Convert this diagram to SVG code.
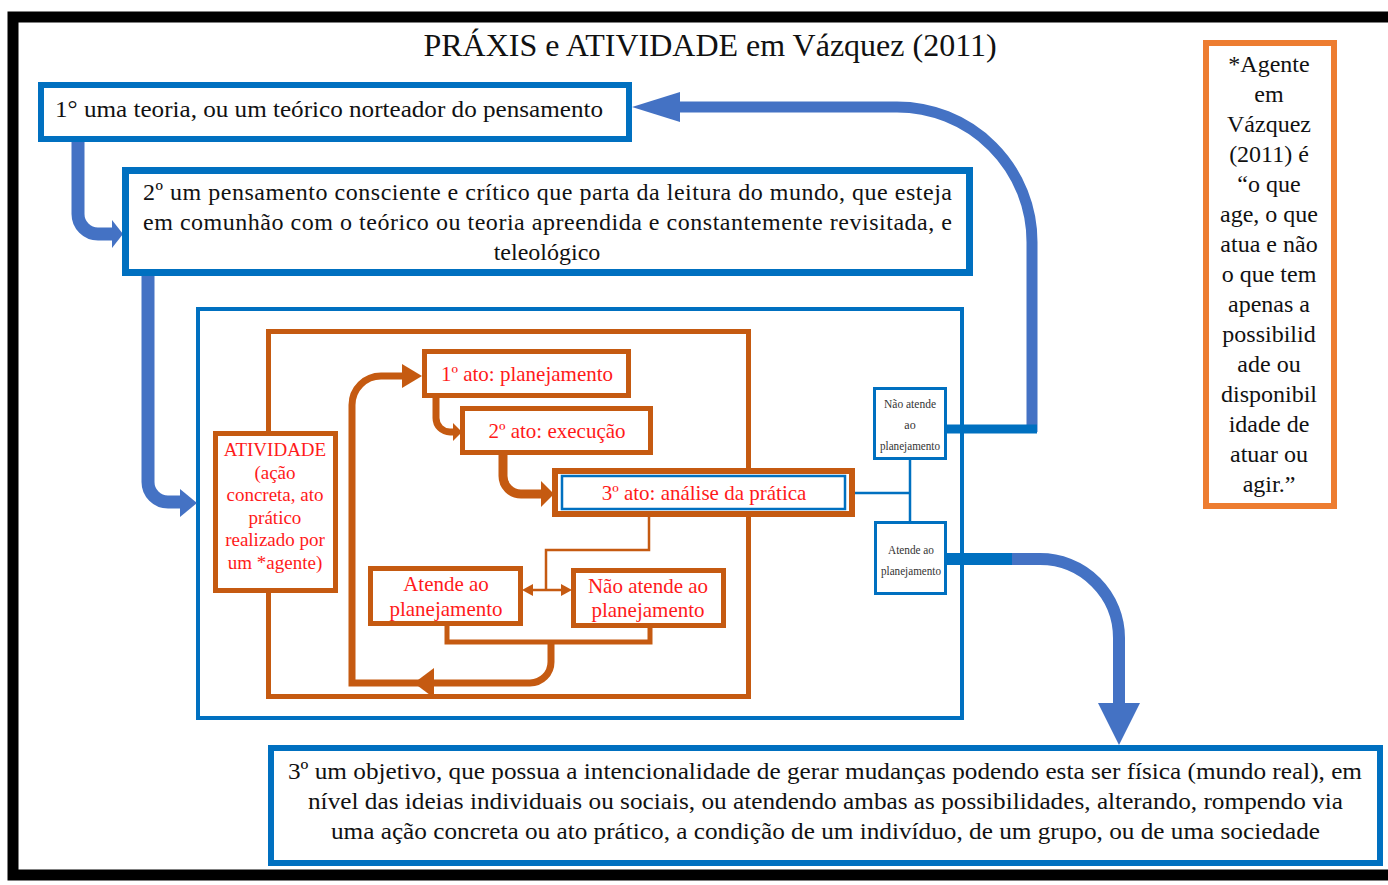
<svg xmlns="http://www.w3.org/2000/svg" width="1388" height="885" viewBox="0 0 1388 885">
<defs>
<style>
.t{font-family:"Liberation Serif","Times New Roman",serif;fill:#111}
.r{font-family:"Liberation Serif","Times New Roman",serif;fill:#FF1A1A}
.s{font-family:"Liberation Serif","Times New Roman",serif;fill:#333}
.bb{fill:#fff;stroke:#0070C0}
.ob{fill:#fff;stroke:#C55A11}
.ol{fill:none;stroke:#C55A11}
.al{fill:none;stroke:#4472C4}
.dl{fill:none;stroke:#0070C0}
.ah{fill:#4472C4}
.oh{fill:#C55A11}
</style>
</defs>
<rect x="0" y="0" width="1388" height="885" fill="#fff"/>
<rect id="frame" x="13" y="17" width="1400" height="858" fill="none" stroke="#000" stroke-width="11"/>
<text class="t" x="710" y="56" font-size="32" text-anchor="middle">PRÁXIS e ATIVIDADE em Vázquez (2011)</text>

<g id="blue-frame"><rect x="198" y="309" width="764" height="409" fill="#fff" stroke="#0070C0" stroke-width="4"/></g>
<g id="orange-frame"><rect x="268.5" y="331.5" width="480" height="365" fill="none" stroke="#C55A11" stroke-width="5"/></g>

<g id="connectors">
<path class="al" stroke-width="13" d="M78 142 V214 A20 20 0 0 0 98 234 H113"/>
<polygon class="ah" points="112,220 123,234 112,248"/>
<path class="al" stroke-width="13" d="M148 276 V482 A20 20 0 0 0 168 502 H182"/>
<polygon class="ah" points="180,489 197,503 180,517"/>
<path class="al" stroke-width="11" d="M1032 432 V242 A135 135 0 0 0 897 107 H678"/>
<polygon class="ah" points="680,92 632,107 680,122"/>
<path class="dl" stroke-width="9" d="M947 429 H1037"/>
<path class="al" stroke-width="12" d="M1008 559 H1040 A79 79 0 0 1 1119 638 V705"/>
<polygon class="ah" points="1098,703 1140,703 1119,745"/>
<path class="dl" stroke-width="12" d="M947 559 H1012"/>
<path class="dl" stroke-width="2.5" d="M846 493 H911 M910 460 V521"/>
<path class="ol" stroke-width="7" d="M436 398 V418 A14 14 0 0 0 450 432 H455"/>
<polygon class="oh" points="453,423 462,432 453,441"/>
<path class="ol" stroke-width="9" d="M503 455 V476 A18 18 0 0 0 521 494 H543"/>
<polygon class="oh" points="541,481 554,494 541,507"/>
<path class="ol" stroke-width="7" d="M551 643 V662 A21 21 0 0 1 530 683 H352 V405 A29 29 0 0 1 381 376 H404"/>
<polygon class="oh" points="402,364 422,376 402,388"/>
<polygon class="oh" points="434,668 414,683 434,698"/>
<path class="ol" stroke-width="5" d="M447 626 V642 H650 V628"/>
<path class="ol" stroke-width="2.5" d="M649 517 V550 H546 V590 M530 590 H564"/>
<polygon class="oh" points="522,590 533,584 533,596"/>
<polygon class="oh" points="572,590 561,584 561,596"/>
</g>

<g id="box1"><rect class="bb" x="41" y="85" width="588" height="54" stroke-width="6"/>
<text class="t" x="55" y="117" font-size="23" textLength="548" lengthAdjust="spacingAndGlyphs">1° uma teoria, ou um teórico norteador do pensamento</text></g>

<g id="box2"><rect class="bb" x="125.5" y="170.5" width="844" height="102" stroke-width="7"/>
<text class="t" x="143" y="200" font-size="24" textLength="809" lengthAdjust="spacing">2º um pensamento consciente e crítico que parta da leitura do mundo, que esteja</text>
<text class="t" x="143" y="230" font-size="24" textLength="809" lengthAdjust="spacing">em comunhão com o teórico ou teoria apreendida e constantemente revisitada, e</text>
<text class="t" x="547" y="260" font-size="24" text-anchor="middle">teleológico</text></g>

<g id="box3"><rect class="bb" x="271" y="748" width="1109" height="115" stroke-width="6"/>
<text class="t" x="288" y="779" font-size="24" textLength="1074" lengthAdjust="spacingAndGlyphs">3º um objetivo, que possua a intencionalidade de gerar mudanças podendo esta ser física (mundo real), em</text>
<text class="t" x="308" y="809" font-size="24" textLength="1035" lengthAdjust="spacingAndGlyphs">nível das ideias individuais ou sociais, ou atendendo ambas as possibilidades, alterando, rompendo via</text>
<text class="t" x="331" y="839" font-size="24" textLength="989" lengthAdjust="spacingAndGlyphs">uma ação concreta ou ato prático, a condição de um indivíduo, de um grupo, ou de uma sociedade</text></g>

<g id="atividade"><rect class="ob" x="215.5" y="433.5" width="120" height="157" stroke-width="5"/>
<g class="r" font-size="19" text-anchor="middle">
<text x="275" y="456">ATIVIDADE</text>
<text x="275" y="479">(ação</text>
<text x="275" y="501">concreta, ato</text>
<text x="275" y="524">prático</text>
<text x="275" y="546">realizado por</text>
<text x="275" y="569">um *agente)</text></g></g>

<g id="ato1"><rect class="ob" x="424.5" y="351.5" width="204" height="44" stroke-width="5"/>
<text class="r" x="527" y="381" font-size="21" text-anchor="middle">1º ato: planejamento</text></g>

<g id="ato2"><rect class="ob" x="462.5" y="408.5" width="188" height="44" stroke-width="5"/>
<text class="r" x="557" y="438" font-size="21" text-anchor="middle">2º ato: execução</text></g>

<g id="ato3"><rect class="ob" x="555" y="471" width="297" height="43" stroke-width="6"/>
<rect class="bb" x="562" y="476" width="283" height="33" stroke-width="2.5"/>
<text class="r" x="704" y="500" font-size="21" text-anchor="middle">3º ato: análise da prática</text></g>

<g id="atende"><rect class="ob" x="370.5" y="568.5" width="150" height="55" stroke-width="5"/>
<text class="r" x="446" y="591" font-size="21" text-anchor="middle">Atende ao</text>
<text class="r" x="446" y="616" font-size="21" text-anchor="middle">planejamento</text></g>

<g id="nao-atende"><rect class="ob" x="573.5" y="570.5" width="150" height="55" stroke-width="5"/>
<text class="r" x="648" y="593" font-size="21" text-anchor="middle">Não atende ao</text>
<text class="r" x="648" y="617" font-size="21" text-anchor="middle">planejamento</text></g>

<g id="nao-atende-small"><rect class="bb" x="874.5" y="388.5" width="71" height="70" stroke-width="3"/>
<g class="s" font-size="12" text-anchor="middle">
<text x="910" y="408" textLength="52" lengthAdjust="spacingAndGlyphs">Não atende</text>
<text x="910" y="429">ao</text>
<text x="910" y="450" textLength="60" lengthAdjust="spacingAndGlyphs">planejamento</text></g></g>

<g id="atende-small"><rect class="bb" x="875.5" y="522.5" width="70" height="71" stroke-width="3"/>
<g class="s" font-size="12" text-anchor="middle">
<text x="911" y="554" textLength="46" lengthAdjust="spacingAndGlyphs">Atende ao</text>
<text x="911" y="575" textLength="60" lengthAdjust="spacingAndGlyphs">planejamento</text></g></g>

<g id="agente"><rect x="1206" y="43" width="128" height="463" fill="#fff" stroke="#ED7D31" stroke-width="6"/>
<g class="t" font-size="24" text-anchor="middle">
<text x="1269" y="72">*Agente</text>
<text x="1269" y="102">em</text>
<text x="1269" y="132">Vázquez</text>
<text x="1269" y="162">(2011)  é</text>
<text x="1269" y="192">“o que</text>
<text x="1269" y="222">age, o que</text>
<text x="1269" y="252">atua e não</text>
<text x="1269" y="282">o que tem</text>
<text x="1269" y="312">apenas a</text>
<text x="1269" y="342">possibilid</text>
<text x="1269" y="372">ade ou</text>
<text x="1269" y="402">disponibil</text>
<text x="1269" y="432">idade de</text>
<text x="1269" y="462">atuar ou</text>
<text x="1269" y="492">agir.”</text></g></g>
</svg>
